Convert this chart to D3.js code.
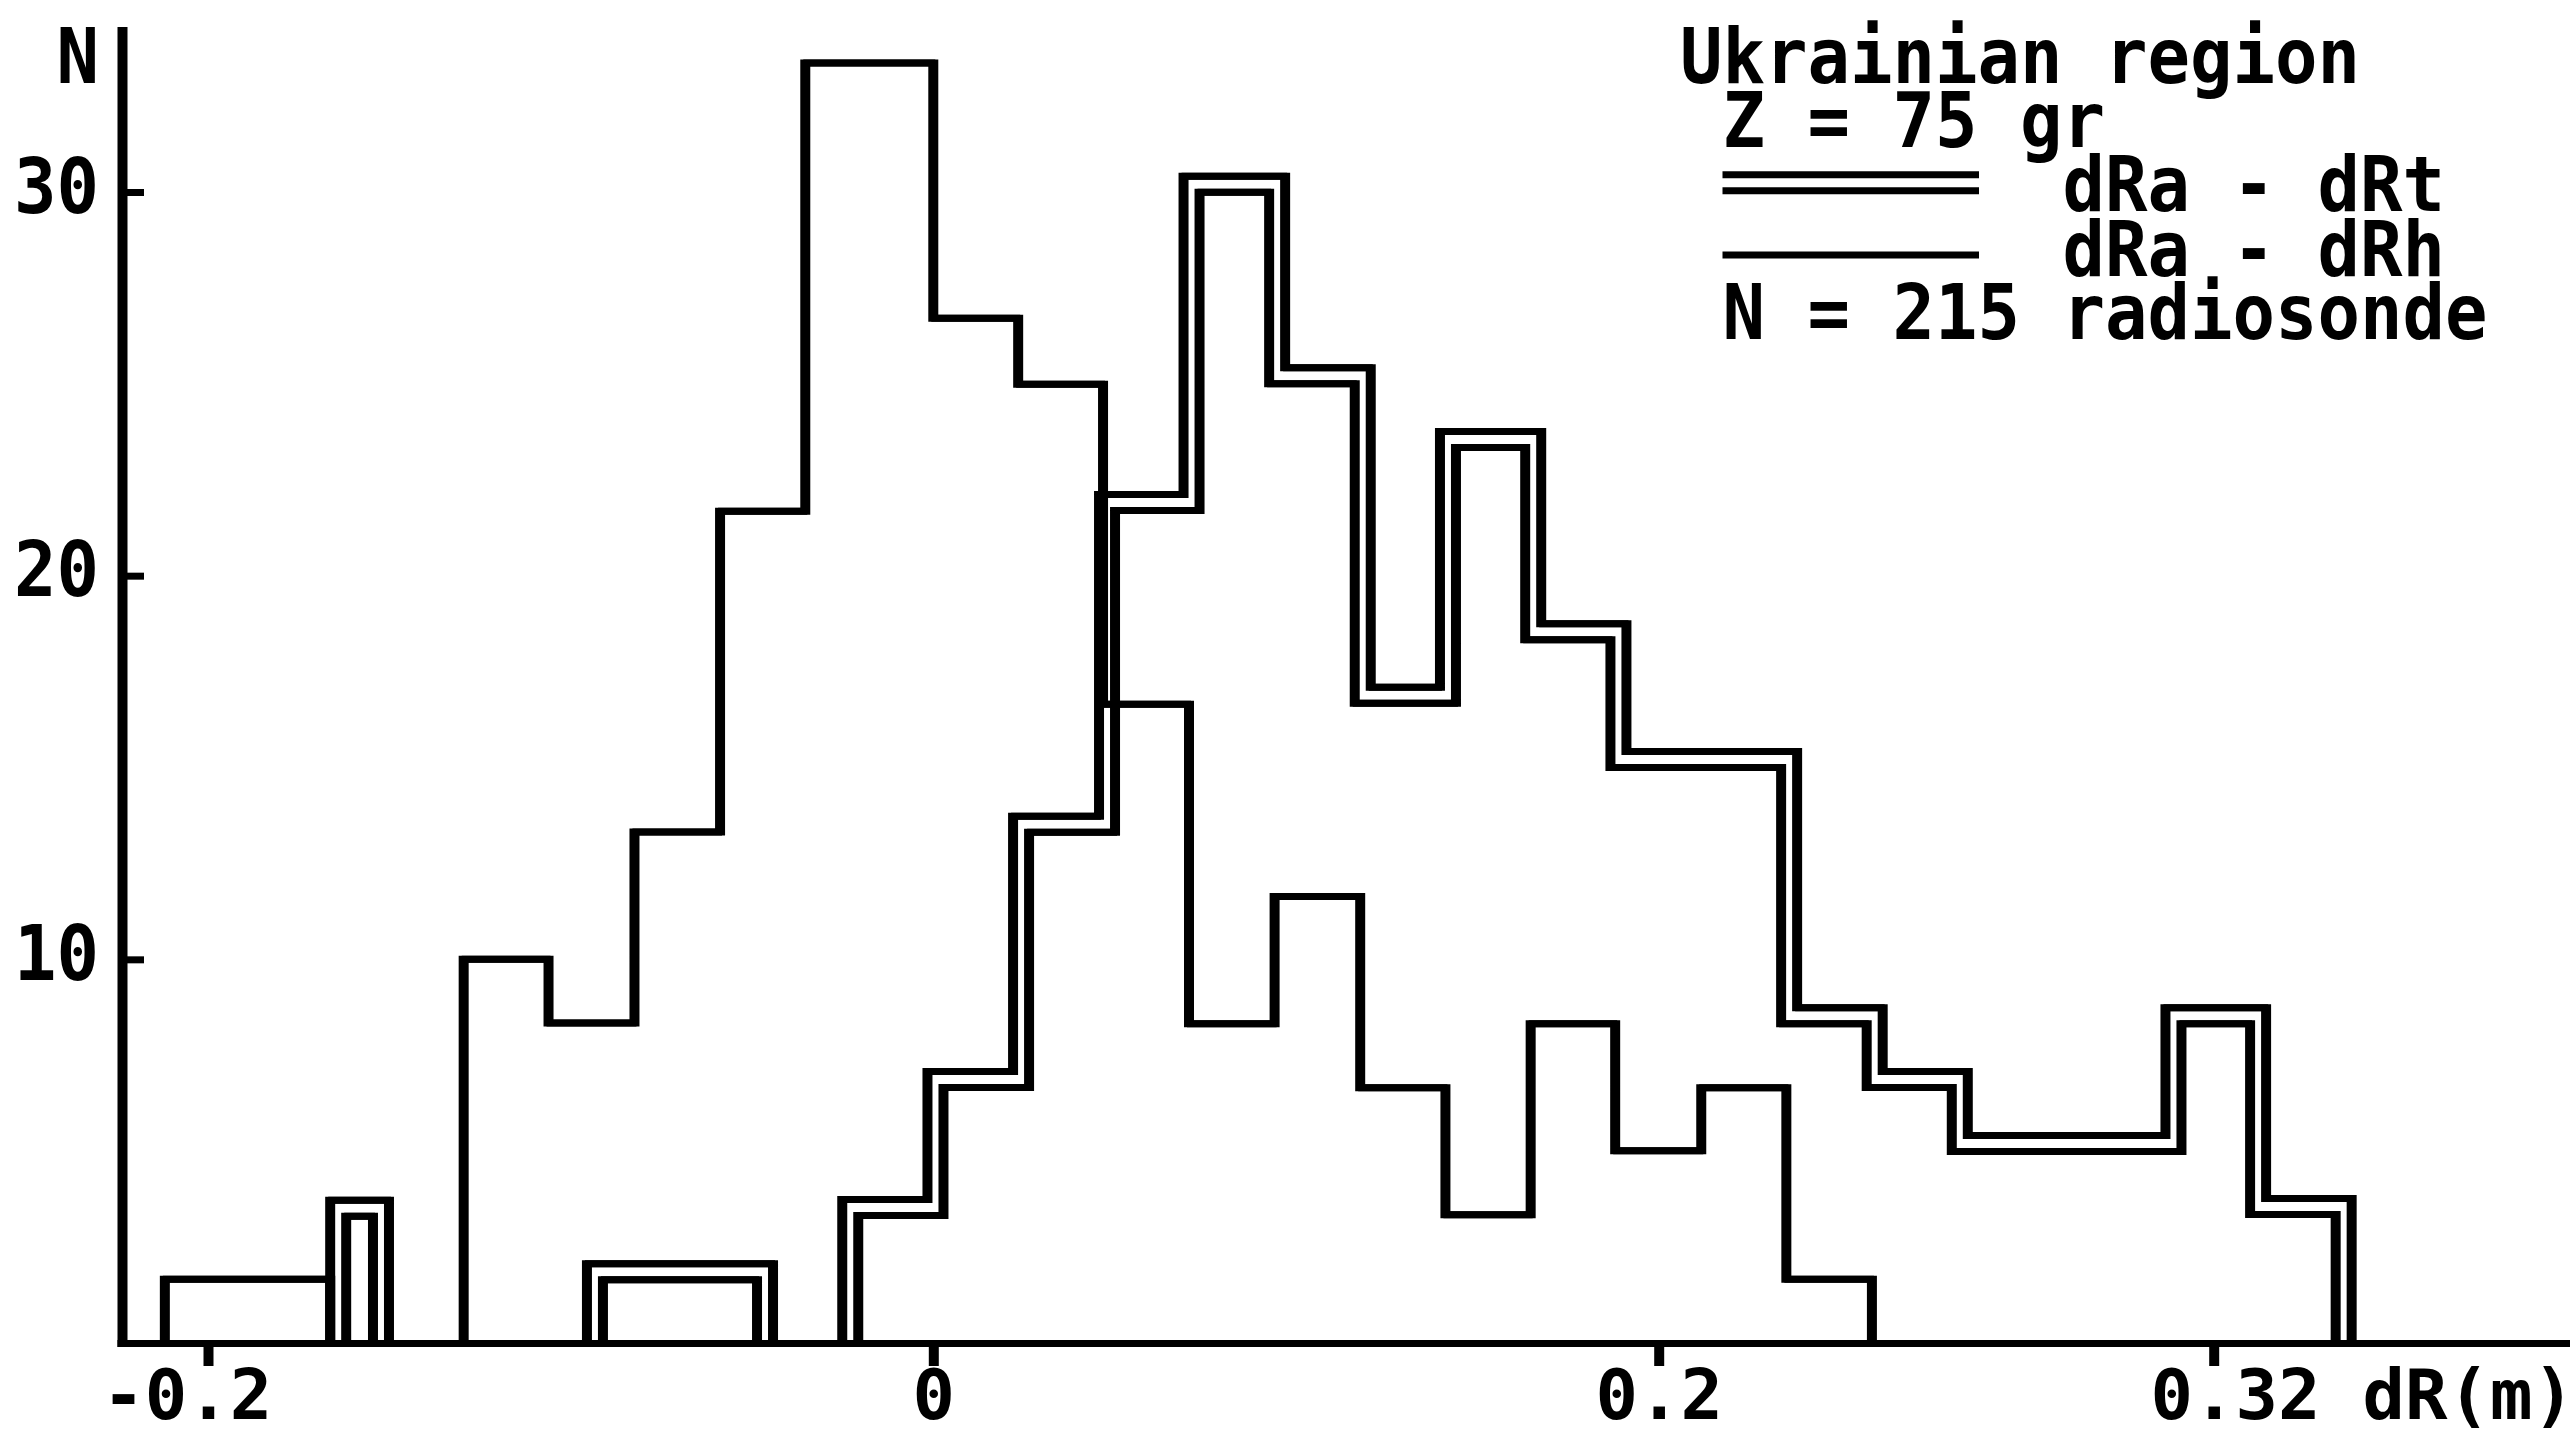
<!DOCTYPE html>
<html>
<head>
<meta charset="utf-8">
<script src="https://cdn.jsdelivr.net/npm/d3@7"></script>
<style>
  html, body { margin: 0; padding: 0; background: #ffffff; }
  svg { display: block; }
  text { font-family: "DejaVu Sans Mono", "Liberation Mono", monospace; font-weight: bold; fill: #000; }
</style>
</head>
<body>
<svg id="chart" width="2576" height="1436"></svg>
<script>
// ---------------- data ----------------
const xTickValues = [-0.2, 0, 0.2, 0.32];
const xTickLabels = ["-0.2", "0", "0.2", "0.32"];
const yTickValues = [10, 20, 30];
const yTickLabels = ["10", "20", "30"];

// dRa - dRh  (single line): bin edges (m) and heights (N)
const dRhEdges  = [-0.2119, -0.1663, -0.1295, -0.1061, -0.0824, -0.0588, -0.0353, 0, 0.0234, 0.0468,
                   0.0705, 0.0941, 0.1177, 0.1412, 0.1647, 0.1880, 0.2092, 0.2276, 0.2461];
const dRhCounts = [1.66, 0, 10.0, 8.34, 13.32, 21.68, 33.36, 26.71, 24.99, 16.65,
                   8.32, 11.64, 6.65, 3.34, 8.32, 5.01, 6.65, 1.66];

// dRa - dRt  (double line): bin edges (m) and heights (N)
const dRtEdges  = [-0.1641, -0.1523, -0.0933, -0.0464, -0.0229, 0.0006, 0.0242, 0.0479, 0.0712, 0.0948,
                   0.1184, 0.1419, 0.1654, 0.1889, 0.2282, 0.2467, 0.2651, 0.3113, 0.3296, 0.3481];
const dRtCounts = [3.51, 0, 1.86, 0, 3.53, 6.87, 13.52, 21.91, 30.2, 25.21,
                   16.88, 23.55, 18.54, 15.21, 8.53, 6.87, 5.20, 8.53, 3.56];

const legendLines = ["Ukrainian region", "Z = 75 gr", "dRa - dRt", "dRa - dRh", "N = 215 radiosonde"];
const yAxisTitle = "N";
const xAxisTitle = "dR(m)";

// ---------------- layout ----------------
const svg = d3.select("#chart");
const FS = 77;        // font size
const FSX = 70;       // font size of the x labels (kept inside the picture)
const ADV = 42.5;     // monospaced character advance
const HW = 7;         // base line width
const DOUBLE = 8;     // half distance of the double line

// x axis of the original is not uniform after 0.2, so a piecewise linear scale is used
const xs = d3.scaleLinear().domain(xTickValues).range([208, 933.3, 1658.7, 2213.7]);
const ys = d3.scaleLinear().domain([0, 30]).range([1343, 192]);

function runsOf(edges, counts) {
  const runs = [];
  let cur = null;
  counts.forEach((v, i) => {
    if (v > 0) {
      if (!cur) { cur = []; runs.push(cur); }
      cur.push({ x0: edges[i], x1: edges[i + 1], v: v });
    } else cur = null;
  });
  return runs;
}

// step outline of a run, offset outward (off>0) or inward (off<0) in pixels
function outline(run, off) {
  const base = ys(0);
  const pts = [];
  const xa = xs(run[0].x0) - off;
  pts.push([xa, base], [xa, ys(run[0].v) - off]);
  for (let i = 1; i < run.length; i++) {
    const dir = run[i].v > run[i - 1].v ? -1 : 1;
    const xx = xs(run[i].x0) + dir * off;
    pts.push([xx, ys(run[i - 1].v) - off], [xx, ys(run[i].v) - off]);
  }
  const last = run[run.length - 1];
  const xb = xs(last.x1) + off;
  pts.push([xb, ys(last.v) - off], [xb, base]);
  return pts;
}

const line = d3.line();
function drawPoly(g, pts) {
  // drawn twice with a small horizontal shift: vertical strokes come out wider than horizontal ones
  [-1.5, 1.5].forEach(dx => {
    g.append("path")
      .attr("d", line(pts))
      .attr("transform", `translate(${dx},0)`)
      .attr("fill", "none")
      .attr("stroke", "#000")
      .attr("stroke-width", HW)
      .attr("stroke-linejoin", "miter")
      .attr("stroke-linecap", "butt");
  });
}

const marks = svg.append("g").attr("class", "marks");
const gH = marks.append("g").attr("class", "dRh");
runsOf(dRhEdges, dRhCounts).forEach(r => drawPoly(gH, outline(r, 0)));
const gT = marks.append("g").attr("class", "dRt");
runsOf(dRtEdges, dRtCounts).forEach(r => {
  drawPoly(gT, outline(r, DOUBLE));
  drawPoly(gT, outline(r, -DOUBLE));
});

// ---------------- axes ----------------
const axisX = 122.5;
svg.append("line").attr("x1", axisX).attr("x2", axisX).attr("y1", 27).attr("y2", 1347)
  .attr("stroke", "#000").attr("stroke-width", 10);
svg.append("line").attr("x1", axisX - 5).attr("x2", 2570).attr("y1", ys(0) + 0.5).attr("y2", ys(0) + 0.5)
  .attr("stroke", "#000").attr("stroke-width", HW);

const gx = svg.append("g").attr("transform", `translate(0,${ys(0) + 4})`)
  .call(d3.axisBottom(xs).tickValues(xTickValues).tickSize(19)
    .tickFormat((d, i) => xTickLabels[i]));
gx.select(".domain").remove();
gx.selectAll(".tick line").attr("stroke", "#000").attr("stroke-width", 10);
gx.selectAll(".tick text")
  .attr("y", 72).attr("dy", 0)
  .attr("font-size", FSX)
  .attr("text-anchor", "start")
  .attr("x", function (d, i) {
    const s = xTickLabels[i];
    const k = s.indexOf(".");
    return k >= 0 ? -(k + 0.5) * ADV : -s.length * ADV / 2;
  })
  .attr("textLength", (d, i) => xTickLabels[i].length * ADV)
  .attr("lengthAdjust", "spacingAndGlyphs");

const gy = svg.append("g").attr("transform", `translate(${axisX},0)`)
  .call(d3.axisLeft(ys).tickValues(yTickValues).tickSize(-21.5).tickPadding(23.5)
    .tickFormat((d, i) => yTickLabels[i]));
gy.select(".domain").remove();
gy.selectAll(".tick line").attr("stroke", "#000").attr("stroke-width", HW);
gy.selectAll(".tick text")
  .attr("dy", 20)
  .attr("font-size", FS)
  .attr("text-anchor", "end")
  .attr("textLength", (d, i) => yTickLabels[i].length * ADV)
  .attr("lengthAdjust", "spacingAndGlyphs");

svg.append("text").text(yAxisTitle)
  .attr("x", axisX - 23.5).attr("y", 83)
  .attr("font-size", FS).attr("text-anchor", "end")
  .attr("textLength", ADV).attr("lengthAdjust", "spacingAndGlyphs");

svg.append("text").text(xAxisTitle)
  .attr("x", xs(0.32) - 1.5 * ADV + 5 * ADV).attr("y", ys(0) + 76)
  .attr("font-size", FSX)
  .attr("textLength", xAxisTitle.length * ADV).attr("lengthAdjust", "spacingAndGlyphs");

// ---------------- legend ----------------
const col0 = 1680;
const legendCols = [0, 1, 9, 9, 1];
const legendBase = [83, 147, 211, 276, 339];
const lg = svg.append("g").attr("class", "legend");
legendLines.forEach((s, i) => {
  lg.append("text").text(s)
    .attr("x", col0 + legendCols[i] * ADV)
    .attr("y", legendBase[i])
    .attr("font-size", FS)
    .attr("textLength", s.length * ADV)
    .attr("lengthAdjust", "spacingAndGlyphs");
});
const lx0 = col0 + ADV, lx1 = 1979;
[182.7 - DOUBLE, 182.7 + DOUBLE, 255].forEach(yy => {
  lg.append("line").attr("x1", lx0).attr("x2", lx1).attr("y1", yy).attr("y2", yy)
    .attr("stroke", "#000").attr("stroke-width", HW);
});
</script>
</body>
</html>
